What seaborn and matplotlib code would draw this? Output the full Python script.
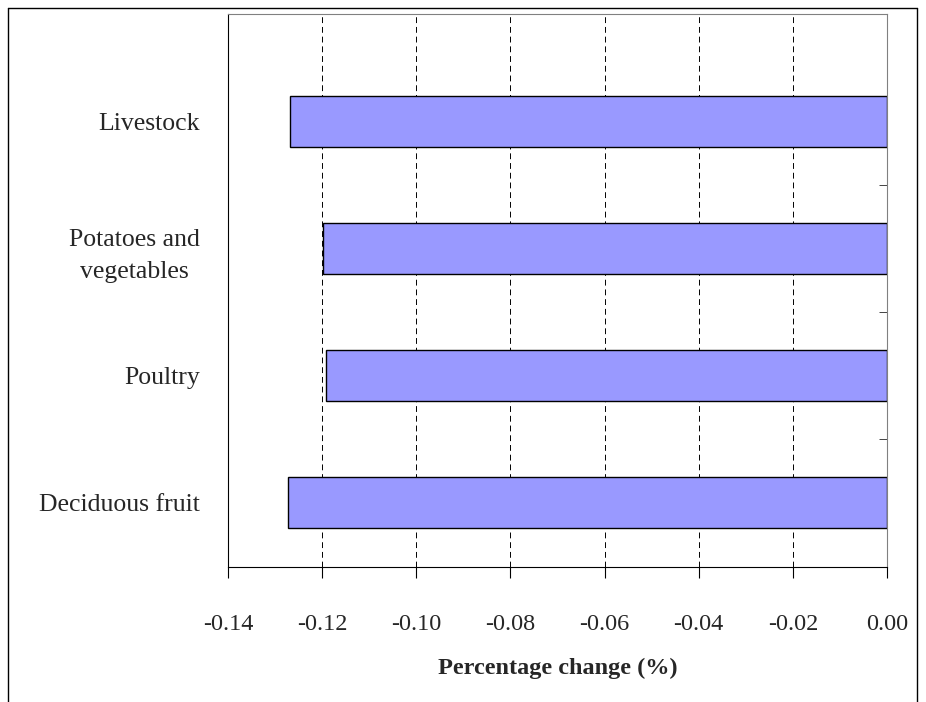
import matplotlib
matplotlib.use("Agg")
import matplotlib.pyplot as plt
import seaborn as sns
import pandas as pd
from matplotlib.lines import Line2D

categories = ["Livestock", "Potatoes and\nvegetables", "Poultry", "Deciduous fruit"]
values = [-0.1268, -0.1198, -0.1191, -0.1272]
xticks = [-0.14, -0.12, -0.10, -0.08, -0.06, -0.04, -0.02, 0.00]

sns.set_style("white")
plt.rcParams['font.family'] = ['Liberation Serif', 'DejaVu Serif']

df = pd.DataFrame({"cat": categories, "val": values})

fig = plt.figure(figsize=(9.26, 7.02), dpi=100)
ax = fig.add_axes([228/926, 1-567/702, (887-228)/926, (567-14)/702])
sns.barplot(data=df, x="val", y="cat", orient="h", color="#9999FF",
            saturation=1, edgecolor="black", linewidth=1, width=0.4, ax=ax)

ax.set_xlim(-0.14, 0.0)
ax.set_ylim(3.51, -0.85)
ax.set_xticks(xticks)
ax.set_xticklabels([f"{t:.2f}" for t in xticks], fontsize=17.5)
ax.tick_params(axis="x", direction="out", length=8, color="black", pad=26, bottom=True)
ax.tick_params(axis="y", length=0, labelsize=18.5, pad=20)
for t in ax.get_yticklabels():
    t.set_multialignment("center")
    t.set_linespacing(1.6)
ax.set_yticks([0.5, 1.5, 2.5], minor=True)
ax.tick_params(axis="y", which="minor", direction="in", length=6, right=True, left=False)
ax.grid(axis="x", color="black", linestyle=(0, (6, 4)), linewidth=0.7)
ax.set_axisbelow(True)
ax.set_xlabel("Percentage change (%)", fontsize=17.5, fontweight="bold", labelpad=16)
ax.set_ylabel("")
for s in ["top", "right"]:
    ax.spines[s].set_color("#808080")
for s in ["left", "bottom"]:
    ax.spines[s].set_color("black")

# figure border
W, H = 926, 702
for xs, ys in [([8, 917], [H-8, H-8]), ([8, 8], [H-8, 0]), ([917, 917], [H-8, 0])]:
    fig.add_artist(Line2D([x/W for x in xs], [y/H for y in ys], color="black", lw=1))

fig.savefig("out.png", dpi=100)
